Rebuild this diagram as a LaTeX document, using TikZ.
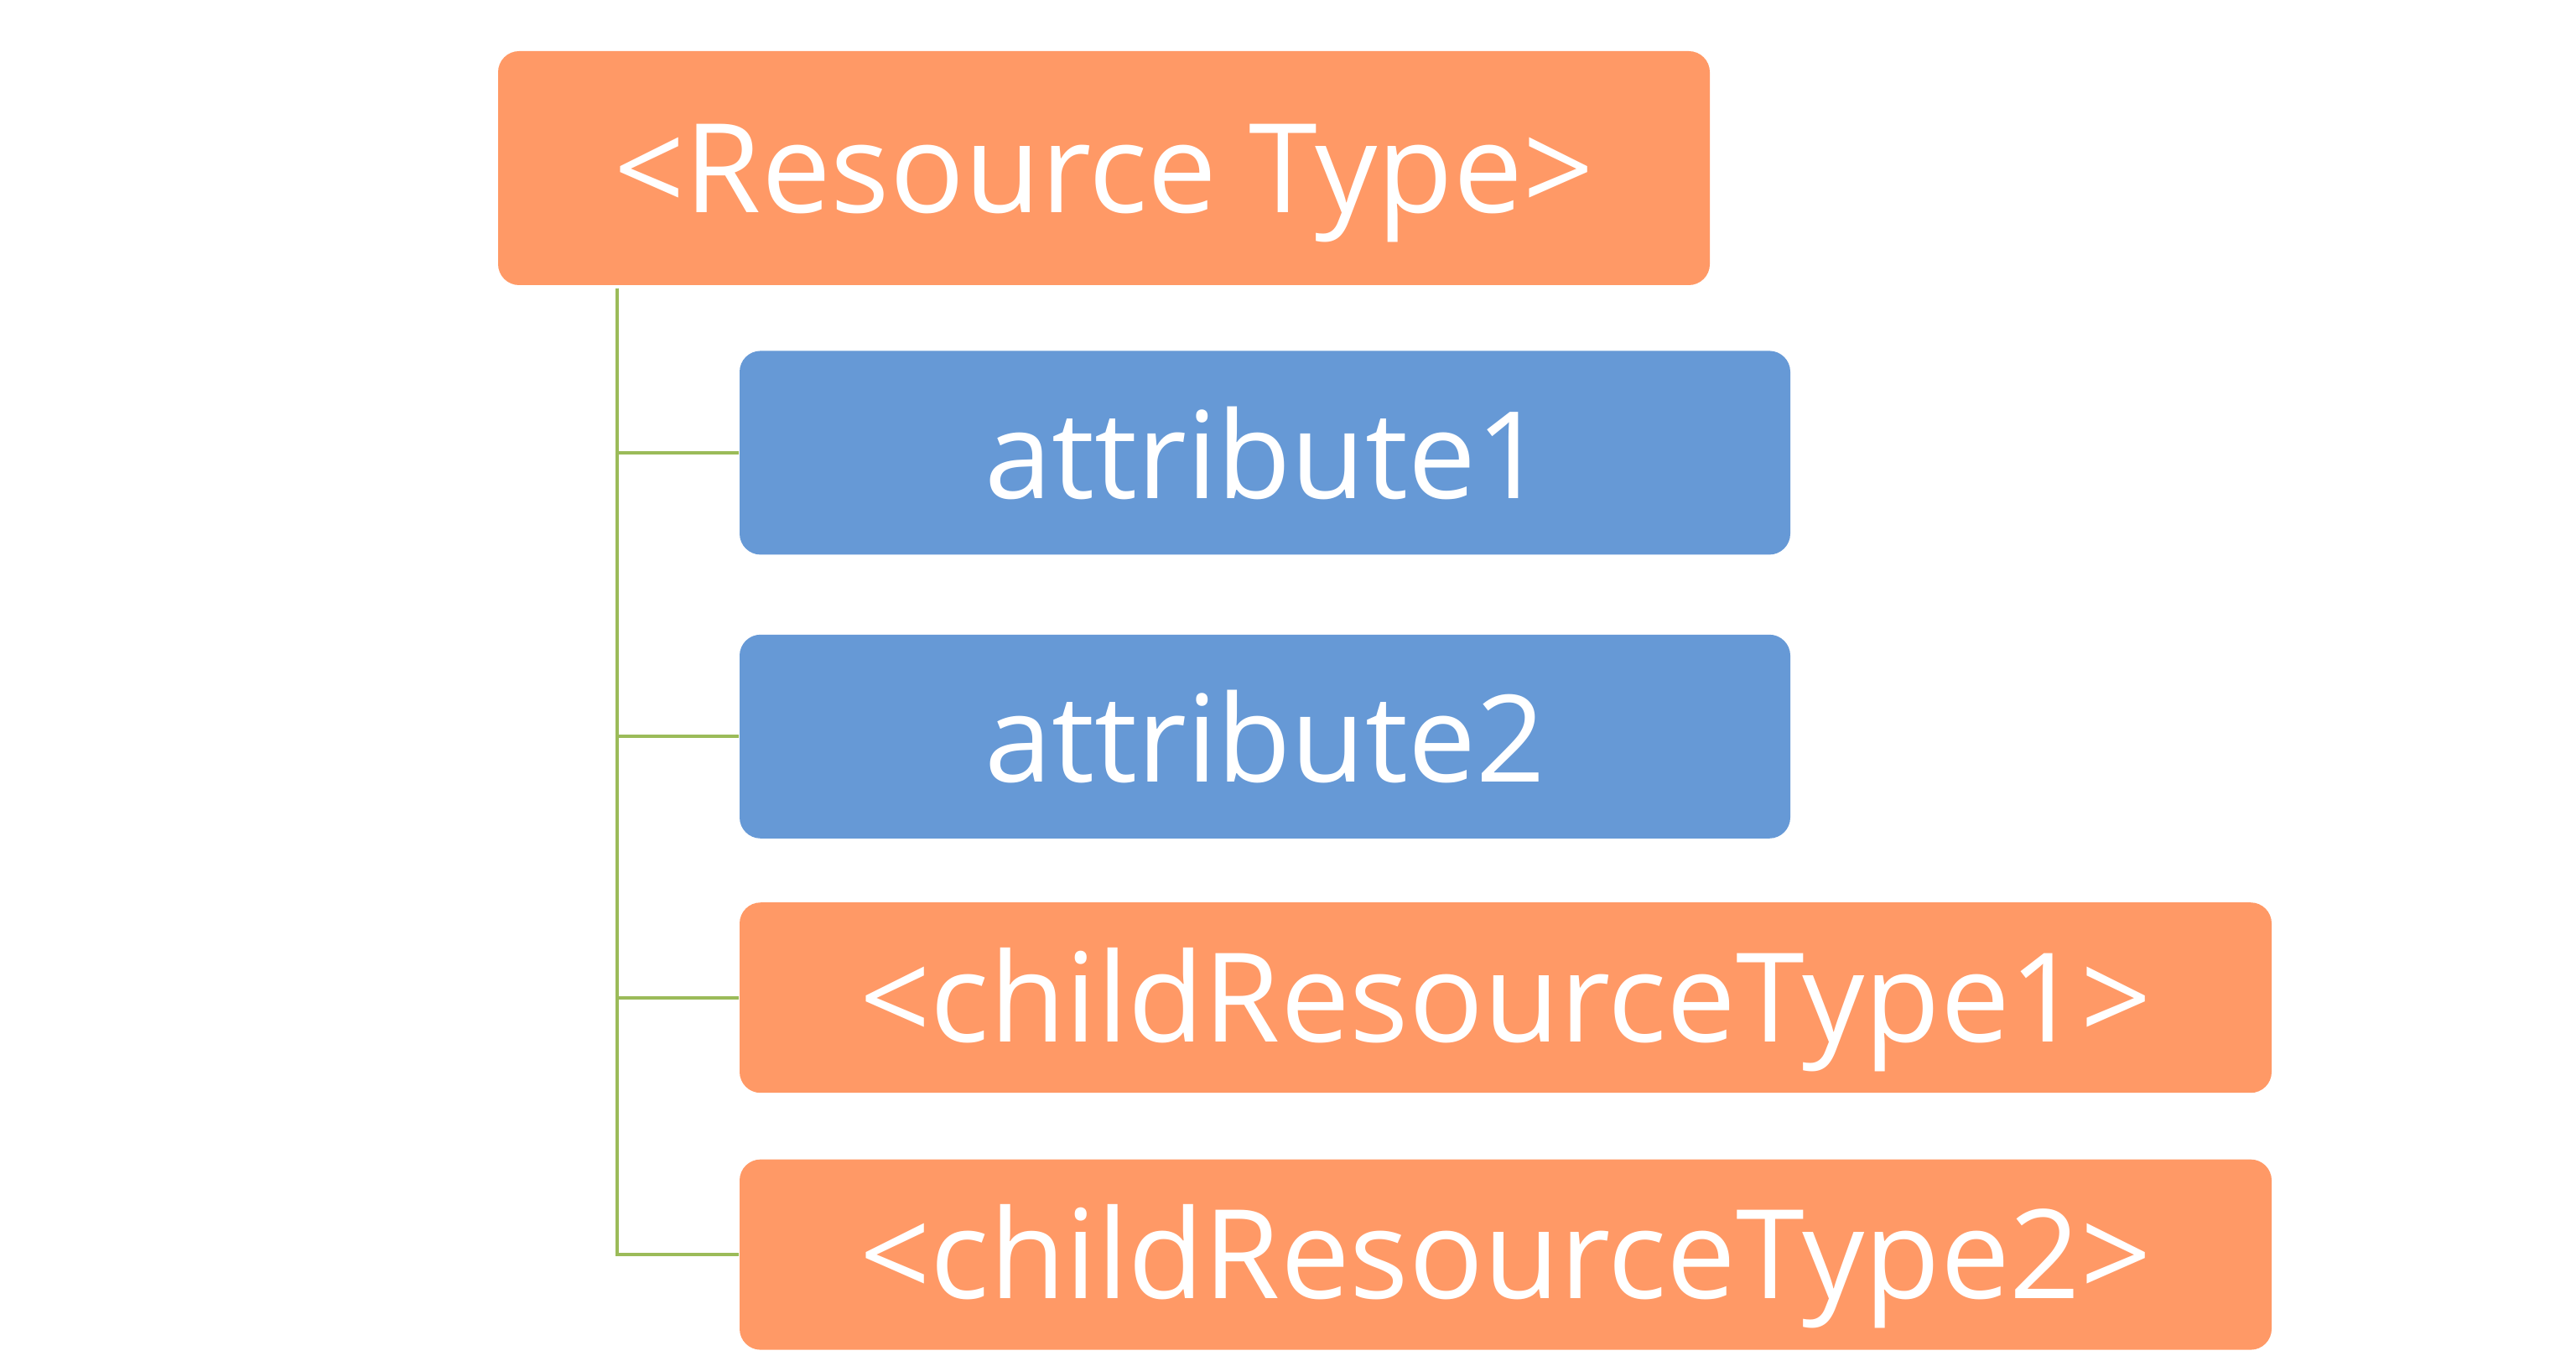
\documentclass[tikz,border=0pt]{standalone}
\usepackage{fontspec}
\setmainfont{Open Sans}
\usepackage{tikz}
\usetikzlibrary{positioning}
\definecolor{resorange}{HTML}{FF9966}
\definecolor{attrblue}{HTML}{6699D6}
\definecolor{branchgreen}{HTML}{9BBB59}
\tikzset{
  resbox/.style={fill=resorange, text=white, rounded corners=0.25cm, inner sep=0pt,
    text height=30pt, text depth=0pt, font=\fontsize{42}{50}\selectfont},
  attrbox/.style={fill=attrblue, text=white, rounded corners=0.25cm, inner sep=0pt,
    minimum width=12.53cm, minimum height=2.43cm, text height=31pt, text depth=0pt,
    font=\fontsize{41}{50}\selectfont},
  branch/.style={draw=branchgreen, line width=1.2pt}
}
\begin{document}
\begin{tikzpicture}
    \useasboundingbox (0,0) rectangle (30.72,-16.23);
    \node(root)[resbox, minimum width=14.45cm, minimum height=2.79cm] at (13.165,-2.005){<Resource Type>};
    \node(attr1)[attrbox, below right=0.77cm and 2.88cm of root.south west]{attribute1};
    \node(attr2)[attrbox, below=0.94cm of attr1]{attribute2};
    \node(child1)[resbox, minimum width=18.27cm, minimum height=2.27cm, below right=0.75cm and 0cm of attr2.south west]{<childResourceType1>};
    \node(child2)[resbox, minimum width=18.27cm, minimum height=2.27cm, below=0.78cm of child1]{<childResourceType2>};
    \coordinate(trunk) at ([xshift=1.43cm, yshift=-0.03cm]root.south west);
    \foreach \n in {attr1,attr2,child1,child2}
        \draw[branch](trunk) |- (\n.west);
\end{tikzpicture}
\end{document}
